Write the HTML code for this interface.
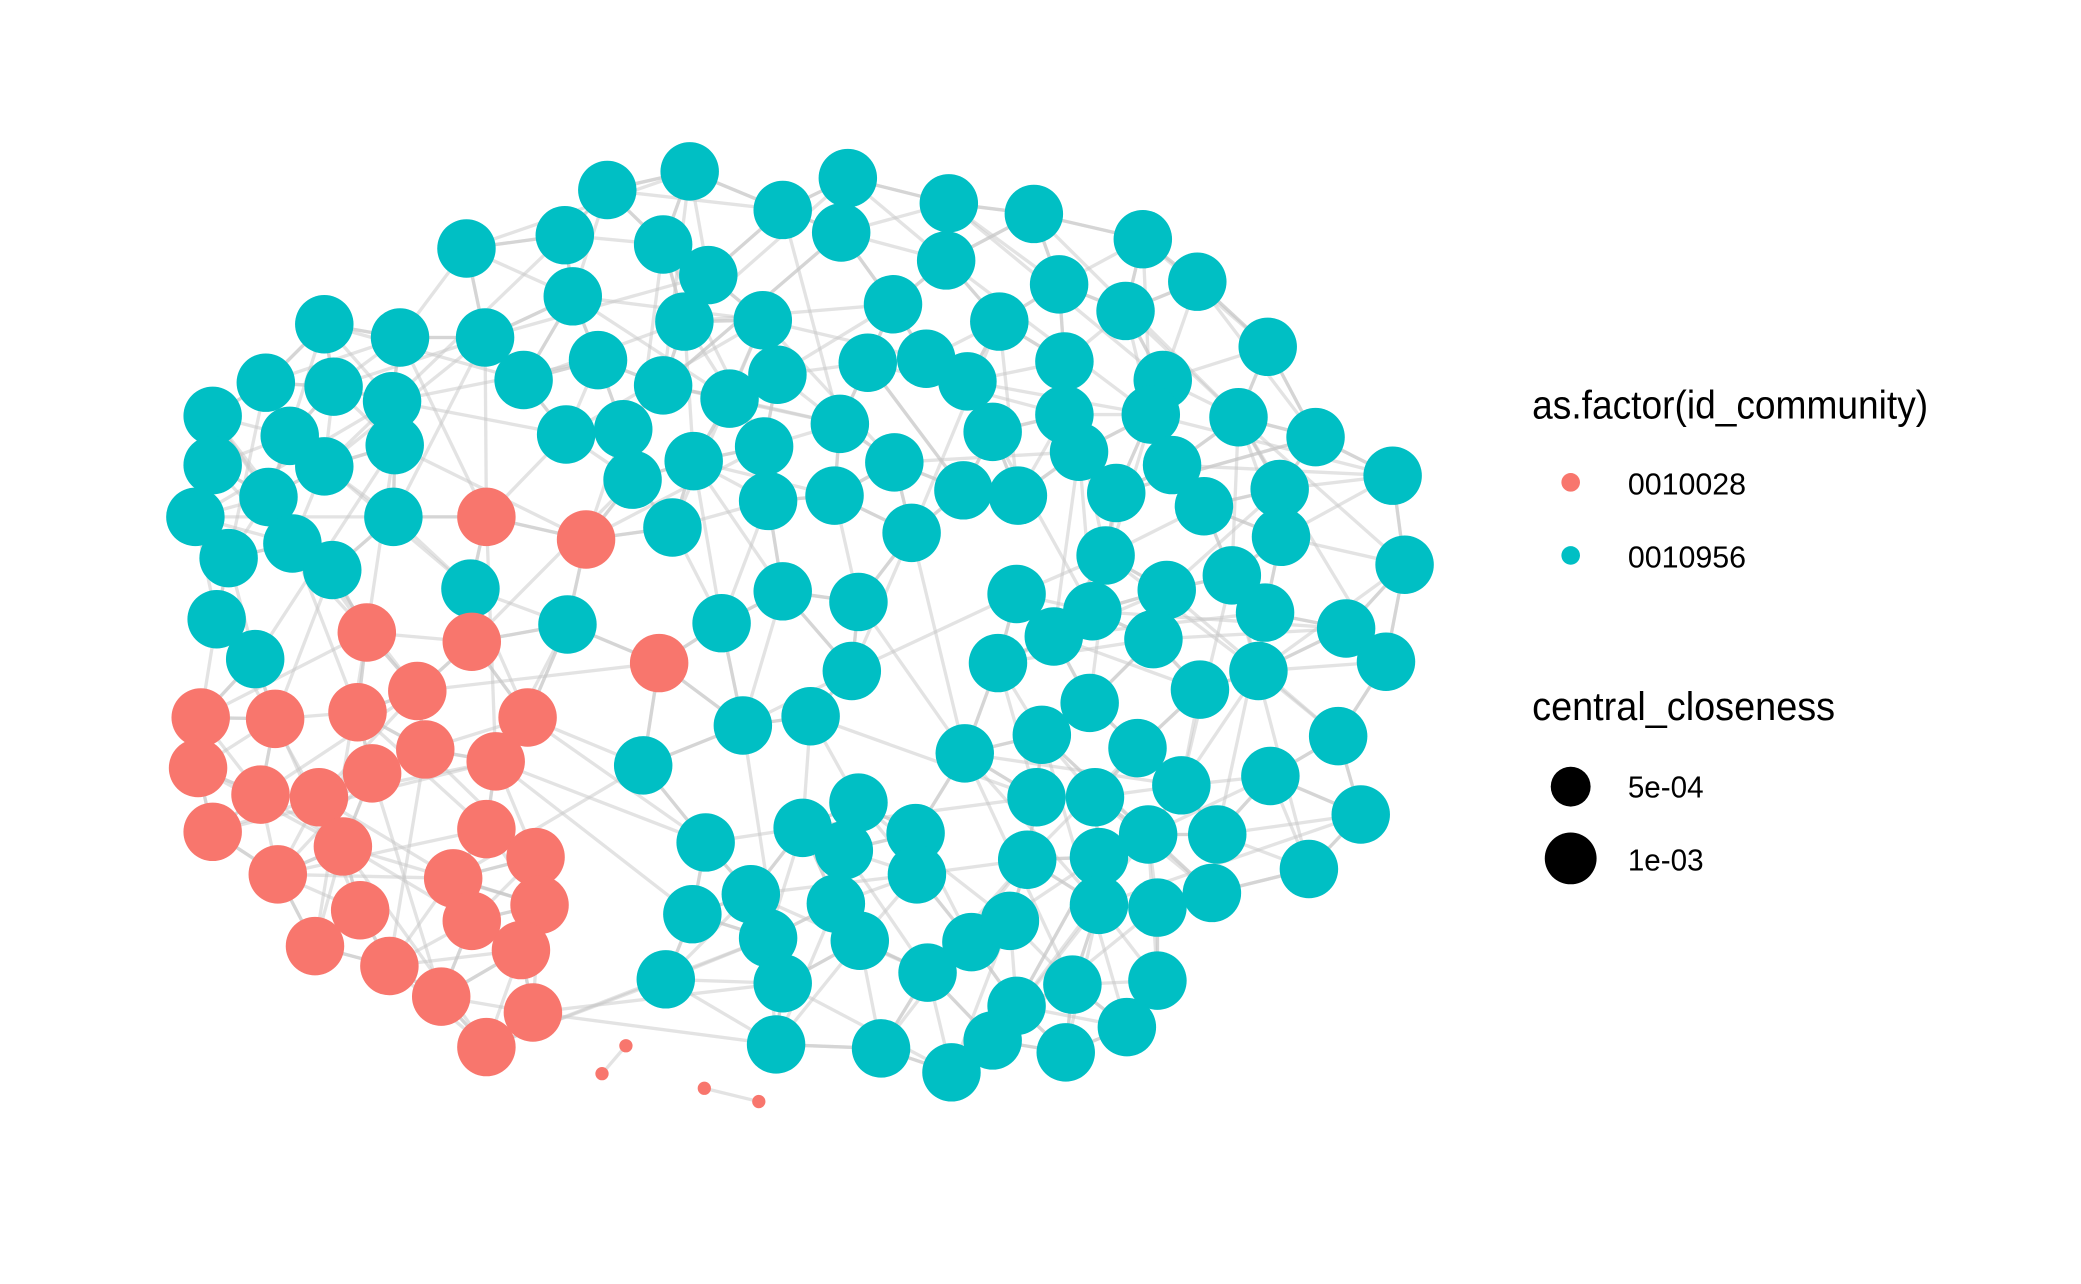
<!DOCTYPE html>
<html><head><meta charset="utf-8"><style>
html,body{margin:0;padding:0;background:#fff;}
svg{display:block;}
text{font-family:"Liberation Sans",sans-serif;fill:#000;}
</style></head><body>
<svg id="chart" width="2081" height="1284" viewBox="0 0 1566 966.3" xmlns="http://www.w3.org/2000/svg">
<rect width="1566" height="966.3" fill="#fff"/>
<g id="edges"></g>
<g id="nodes"></g>
<g>
<text x="1153" y="315" font-size="30" textLength="298" lengthAdjust="spacingAndGlyphs">as.factor(id_community)</text>
<circle cx="1182" cy="363" r="7" fill="#F8766D"/>
<text x="1225" y="372" font-size="23" textLength="89" lengthAdjust="spacingAndGlyphs">0010028</text>
<circle cx="1182" cy="418" r="7" fill="#00BFC4"/>
<text x="1225" y="427" font-size="23" textLength="89" lengthAdjust="spacingAndGlyphs">0010956</text>
<text x="1153" y="542" font-size="30" textLength="228" lengthAdjust="spacingAndGlyphs">central_closeness</text>
<circle cx="1182" cy="592" r="15" fill="#000"/>
<text x="1225" y="600" font-size="23" textLength="57" lengthAdjust="spacingAndGlyphs">5e-04</text>
<circle cx="1182" cy="646" r="19.5" fill="#000"/>
<text x="1225" y="655" font-size="23" textLength="57" lengthAdjust="spacingAndGlyphs">1e-03</text>
</g>
</svg>
<script>
const tealX=[457,519,638,589,633,714,778,860,901,351,425,499,533,712,797,847,431,515,574,672,752,954,244,301,365,394,450,499,549,585,653,697,728,801,875,200,251,295,160,218,297,426,469,522,575,632,673,747,801,866,932,990,160,244,202,476,578,628,725,766,812,840,882,906,963,1048,147,296,506,686,964,1057,172,220,250,832,927,354,589,646,765,878,952,163,427,543,822,793,868,1013,192,641,751,903,947,1043,820,610,559,784,856,1007,484,726,889,956,780,824,646,1024,531,604,689,635,773,827,864,916,985,690,565,629,827,871,912,521,578,647,731,760,698,589,807,871,501,765,584,663,747,848,802,716];
const tealY=[143,129,134,158,175,153,161,180,212,187,177,184,207,196,214,234,223,242,241,229,242,261,244,254,254,286,271,290,300,282,273,270,287,272,286,288,291,302,313,328,335,327,323,347,336,319,348,325,312,312,314,329,350,351,374,361,377,373,369,373,340,371,350,381,368,358,389,389,397,401,404,425,420,409,429,418,433,443,445,453,447,444,461,466,470,469,460,479,481,473,496,505,499,519,505,498,529,539,546,553,563,554,576,567,591,584,600,600,604,613,634,623,627,640,647,645,628,628,654,658,673,680,681,683,672,688,706,708,709,693,732,740,741,738,737,757,786,789,783,773,792,807];
const redX=[366,441,276,355,496,314,151,207,269,397,320,373,149,280,196,240,366,160,258,403,209,341,406,271,355,237,392,293,332,401,366];
const redY=[389,406,476,483,499,520,540,541,536,540,564,573,578,582,598,600,624,626,637,645,658,661,681,685,693,712,715,727,750,762,788];
const smallX=[471,453,530,571];
const smallY=[787,808,819,829];
const smallPairs=[[0,1],[2,3]];
const R_BIG=22, R_SMALL=5;
const NS="http://www.w3.org/2000/svg";
const eg=document.getElementById('edges'), ng=document.getElementById('nodes');
const all=[];
tealX.forEach((x,i)=>all.push({x:x,y:tealY[i],c:'#00BFC4'}));
redX.forEach((x,i)=>all.push({x:x,y:redY[i],c:'#F8766D'}));
function line(a,b){
  const l=document.createElementNS(NS,'line');
  l.setAttribute('x1',a.x);l.setAttribute('y1',a.y);l.setAttribute('x2',b.x);l.setAttribute('y2',b.y);
  l.setAttribute('stroke','#c8c8c8');l.setAttribute('stroke-opacity','0.5');l.setAttribute('stroke-width','2.5');
  
  
  eg.appendChild(l);
}
all.forEach((a,i)=>{
  const d=all.map((b,j)=>({j:j,d:Math.hypot(a.x-b.x,a.y-b.y)})).filter(o=>o.j!==i).sort((p,q)=>p.d-q.d);
  for(let k=0;k<4;k++){ if(d[k].d<170) line(a,all[d[k].j]); }
  const far=d[8+(i%7)*3]; if(far && far.d<280) line(a,all[far.j]);
});
smallPairs.forEach(p=>line({x:smallX[p[0]],y:smallY[p[0]]},{x:smallX[p[1]],y:smallY[p[1]]}));
all.forEach(n=>{
  const c=document.createElementNS(NS,'circle');
  c.setAttribute('cx',n.x);c.setAttribute('cy',n.y);c.setAttribute('r',R_BIG);c.setAttribute('fill',n.c);
  
  
  ng.appendChild(c);
});
smallX.forEach((x,i)=>{
  const c=document.createElementNS(NS,'circle');
  c.setAttribute('cx',x);c.setAttribute('cy',smallY[i]);c.setAttribute('r',R_SMALL);c.setAttribute('fill','#F8766D');
  
  
  ng.appendChild(c);
});
</script>
</body></html>
